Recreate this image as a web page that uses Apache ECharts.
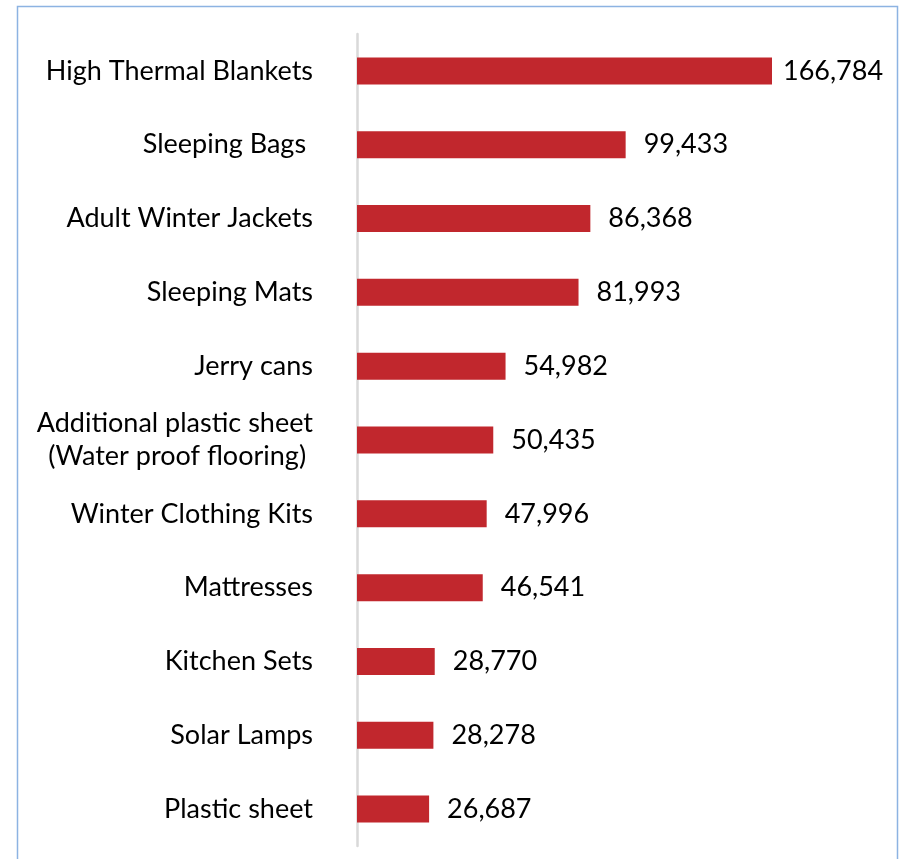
<!DOCTYPE html>
<html><head><meta charset="utf-8">
<script src="https://cdn.jsdelivr.net/npm/echarts@6/dist/echarts.min.js"></script>
<style>html,body{margin:0;padding:0;background:#fff}#c{width:907px;height:859px}</style>
</head><body><div id="c"></div>
<script>
const categories = [
  "High Thermal Blankets",
  "Sleeping Bags ",
  "Adult Winter Jackets",
  "Sleeping Mats",
  "Jerry cans",
  "Additional plastic sheet\n(Water proof flooring) ",
  "Winter Clothing Kits",
  "Mattresses",
  "Kitchen Sets",
  "Solar Lamps",
  "Plastic sheet"
];
const values = [166784, 99433, 86368, 81993, 54982, 50435, 47996, 46541, 28770, 28278, 26687];
const axisMax = 153600;

const chart = echarts.init(document.getElementById('c'), null, {renderer: 'canvas'});
const font = 'Lato, "Open Sans", sans-serif';
chart.setOption({
  animation: false,
  graphic: [{
    type: 'rect', silent: true,
    shape: {x: 17.5, y: 6.5, width: 880, height: 900},
    style: {fill: 'none', stroke: '#8DB3E2', lineWidth: 1.5}
  }],
  grid: {left: 357, right: 135, top: 34, bottom: 13, containLabel: false},
  xAxis: {type: 'value', min: 0, max: axisMax, show: false},
  yAxis: {
    type: 'category', inverse: true,
    data: categories.map(c => c.indexOf('\n') >= 0
      ? {value: c, textStyle: {padding: [0, 0, 8, 0]}}
      : {value: c, textStyle: {padding: [2, 0, 0, 0]}}),
    axisLine: {show: true, lineStyle: {color: '#D9D9D9', width: 2.5}},
    axisTick: {show: false},
    axisLabel: {margin: 44, color: '#000', fontFamily: font, fontSize: 27, lineHeight: 33}
  },
  series: [{
    type: 'bar', clip: true, barWidth: 27,
    data: values.map((v, i) => ({value: v, label: {distance: i === 0 ? 11 : 18}})),
    itemStyle: {color: '#C1272D'},
    label: {
      show: true, position: 'right', color: '#000', fontFamily: font, fontSize: 27,
      formatter: p => p.value.toLocaleString('en-US')
    }
  }]
});
</script></body></html>
